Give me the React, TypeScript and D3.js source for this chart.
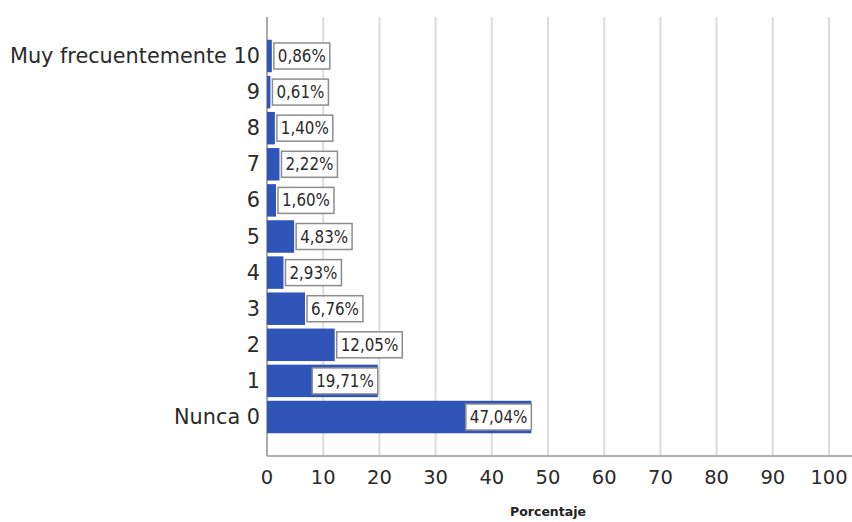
import React from "react";
import * as d3 from "d3";

const categories = ["Muy frecuentemente 10", "9", "8", "7", "6", "5", "4", "3", "2", "1", "Nunca 0"];
const values = [0.86, 0.61, 1.4, 2.22, 1.6, 4.83, 2.93, 6.76, 12.05, 19.71, 47.04];
const xTicks = [0, 10, 20, 30, 40, 50, 60, 70, 80, 90, 100];
const xTitle = "Porcentaje";

const W = 852, H = 522;
const left = 267, right = 829, top = 17, bottom = 456;

let ctx: CanvasRenderingContext2D | null = null;
function measure(s: string, font: string) {
  if (!ctx) ctx = document.createElement("canvas").getContext("2d");
  if (!ctx) return s.length * 9;
  ctx.font = font;
  return ctx.measureText(s).width;
}

export default function App() {
  const x = d3.scaleLinear().domain([0, 100]).range([left, right]);
  const y = d3.scaleBand<string>().domain(categories).range([top, bottom]).paddingInner(0.1).paddingOuter(0.63);
  const fmt = (v: number) => v.toFixed(2).replace(".", ",") + "%";
  const font = "'DejaVu Sans', sans-serif";
  const labelFamily = "'DejaVu Sans Condensed', 'DejaVu Sans', sans-serif";
  const labelFs = 16.8;
  return (
    <svg width={W} height={H} style={{ position: "absolute", left: 0, top: 0, background: "#fff" }}>
      {xTicks.map((t) => (
        <line key={"g" + t} x1={x(t)} x2={x(t)} y1={top} y2={bottom} stroke="#dcdcdc" strokeWidth={2} />
      ))}
      <line x1={left} x2={left} y1={top} y2={bottom} stroke="#9a9a9a" strokeWidth={1.5} />
      <line x1={left} x2={W} y1={bottom} y2={bottom} stroke="#9a9a9a" strokeWidth={1.5} />
      {categories.map((c, i) => {
        const v = values[i];
        const y0 = y(c)!;
        const bw = y.bandwidth();
        const xe = x(v);
        const txt = fmt(v);
        const tw = measure(txt, `${labelFs}px 'DejaVu Sans Condensed', 'DejaVu Sans', sans-serif`) + 8;
        const bh = 26;
        const inside = xe - left > tw + 10;
        const bx = inside ? xe - tw : xe + 2;
        const cy = y0 + bw / 2;
        return (
          <g key={c}>
            <rect x={left} y={y0} width={xe - left} height={bw} fill="#2f55b8" />
            <rect x={bx} y={cy - bh / 2} width={tw} height={bh} fill="#fff" stroke="#8c8c8c" strokeWidth={1.5} />
            <text x={bx + tw / 2} y={cy + 6} textAnchor="middle" fontFamily={labelFamily} fontSize={labelFs} fill="#2a2a2a">
              {txt}
            </text>
            <text x={left - 7} y={cy + 7} textAnchor="end" fontFamily={font} fontSize={20.8} fill="#2a2a2a">
              {c}
            </text>
          </g>
        );
      })}
      {xTicks.map((t) => (
        <text key={"t" + t} x={x(t)} y={bottom + 28} textAnchor="middle" fontFamily={font} fontSize={19.5} fill="#2a2a2a">
          {t}
        </text>
      ))}
      <text x={x(50)} y={516} textAnchor="middle" fontFamily={font} fontSize={12.5} fontWeight="bold" fill="#222">
        {xTitle}
      </text>
    </svg>
  );
}
